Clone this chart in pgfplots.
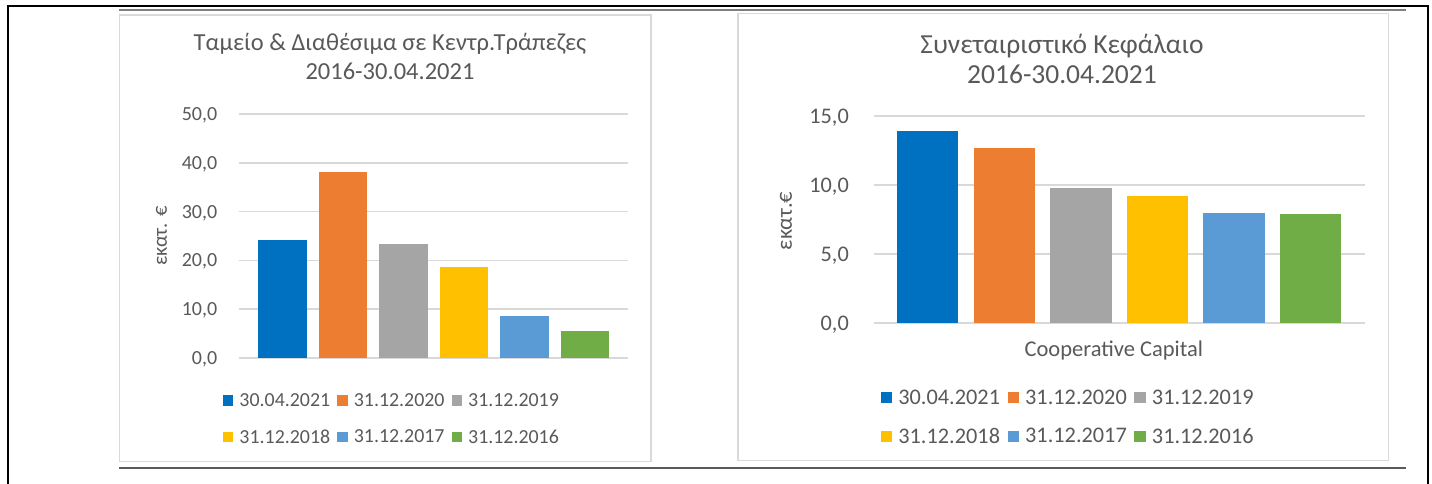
\documentclass[border=0pt]{standalone}
\usepackage{fontspec}
\setmainfont{Carlito}
\usepackage{pgfplots}
\pgfplotsset{compat=1.18}

\definecolor{cBlue}{HTML}{0070C0}
\definecolor{cOrange}{HTML}{ED7D31}
\definecolor{cGray}{HTML}{A5A5A5}
\definecolor{cYellow}{HTML}{FFC000}
\definecolor{cLBlue}{HTML}{5B9BD5}
\definecolor{cGreen}{HTML}{70AD47}
\definecolor{txt}{HTML}{595959}
\definecolor{gridc}{HTML}{D9D9D9}
\definecolor{topgray}{HTML}{7F7F7F}
\definecolor{botgray}{HTML}{5A5A5A}

\pgfplotsset{
  mybars/.style={
    scale only axis,
    xmin=-0.71, xmax=5.71, ymin=0,
    axis line style={draw=none},
    xtick=\empty,
    major tick length=0pt,
    ytick style={draw=none},
    ymajorgrids,
    major grid style={color=gridc, line width=1.5pt},
    /pgf/number format/assume math mode=true,
    /pgf/number format/fixed,
    /pgf/number format/fixed zerofill,
    /pgf/number format/precision=1,
    /pgf/number format/use comma,
    y tick label style={text=txt, inner sep=0pt, text depth=0pt},
    ylabel style={text=txt},
    xlabel style={text=txt},
    legend columns=3,
    legend cell align=left,
  },
  mybar/.style 2 args={ybar, bar width=0.8, bar shift=0pt, draw=none, fill=#1,
    legend image code/.code={\fill[##1] (0pt,-#2) rectangle (2*#2,#2);}},
}

\begin{document}
\begin{tikzpicture}
\useasboundingbox (0pt,0pt) rectangle (1432pt,-483pt);
% outer frames
\draw[line width=2pt, black] (8pt,-490pt) -- (8pt,-6pt) -- (1427.5pt,-6pt) -- (1427.5pt,-490pt);
\draw[line width=2pt, topgray] (119pt,-10pt) -- (1406pt,-10pt);
\draw[line width=2pt, botgray] (119pt,-468pt) -- (1406pt,-468pt);
\draw[line width=1.5pt, gridc] (119.5pt,-15pt) rectangle (651pt,-461.5pt);
\draw[line width=1.5pt, gridc] (738pt,-13.5pt) rectangle (1388.5pt,-460.7pt);

% titles
\node[anchor=base, text=txt, font=\fontsize{24.5pt}{28pt}\selectfont, inner sep=0pt] at (390pt,-50pt) {Ταμείο \& Διαθέσιμα σε Κεντρ.Τράπεζες};
\node[anchor=base, text=txt, font=\fontsize{24.5pt}{28pt}\selectfont, inner sep=0pt] at (390pt,-79.5pt) {2016-30.04.2021};
\node[anchor=base, text=txt, font=\fontsize{27.5pt}{31pt}\selectfont, inner sep=0pt] at (1062pt,-53.3pt) {Συνεταιριστικό Κεφάλαιο};
\node[anchor=base, text=txt, font=\fontsize{27.5pt}{31pt}\selectfont, inner sep=0pt] at (1062pt,-83.3pt) {2016-30.04.2021};

% left chart
\begin{axis}[mybars,
  at={(239.4pt,-358pt)}, anchor=south west,
  width=388.6pt, height=244pt,
  ymax=50, ytick={0,10,20,30,40,50},
  y tick label style={font=\fontsize{20pt}{24pt}\selectfont, xshift=-22pt},
  ylabel={εκατ. €},
  ylabel style={at={(axis description cs:-0.2005,0.5)}, anchor=center, font=\fontsize{20.5pt}{24pt}\selectfont},
  legend style={at={(axis description cs:-0.043,-0.1445)}, anchor=north west,
    draw=none, fill=none, inner sep=0pt, text=txt,
    font=\fontsize{19.9pt}{23pt}\selectfont,
    nodes={inner sep=0pt},
    row sep=21.7pt, column sep=6pt,
    /tikz/every even column/.append style={column sep=7pt}},
]
\addplot[mybar={cBlue}{5.3pt}]   coordinates {(0,24.1)};
\addplot[mybar={cOrange}{5.3pt}] coordinates {(1,38.2)};
\addplot[mybar={cGray}{5.3pt}]   coordinates {(2,23.4)};
\addplot[mybar={cYellow}{5.3pt}] coordinates {(3,18.7)};
\addplot[mybar={cLBlue}{5.3pt}]  coordinates {(4,8.6)};
\addplot[mybar={cGreen}{5.3pt}]  coordinates {(5,5.5)};
\legend{30.04.2021,31.12.2020,31.12.2019,31.12.2018,31.12.2017,31.12.2016}
\end{axis}

% right chart
\begin{axis}[mybars,
  at={(873.5pt,-323pt)}, anchor=south west,
  width=491.5pt, height=207pt,
  ymax=15, ytick={0,5,10,15},
  y tick label style={font=\fontsize{22.3pt}{26pt}\selectfont, xshift=-24.5pt},
  ylabel={εκατ.€},
  ylabel style={at={(axis description cs:-0.178,0.493)}, anchor=center, font=\fontsize{22.5pt}{26pt}\selectfont},
  xlabel={Cooperative Capital},
  xlabel style={at={(axis description cs:0.489,-0.163)}, anchor=base, font=\fontsize{22.5pt}{26pt}\selectfont},
  legend style={at={(axis description cs:0.0146,-0.322)}, anchor=north west,
    draw=none, fill=none, inner sep=0pt, text=txt,
    font=\fontsize{22.3pt}{26pt}\selectfont,
    nodes={inner sep=0pt},
    row sep=22.3pt, column sep=6.3pt,
    /tikz/every even column/.append style={column sep=7.6pt}},
]
\addplot[mybar={cBlue}{5.6pt}]   coordinates {(0,13.9)};
\addplot[mybar={cOrange}{5.6pt}] coordinates {(1,12.7)};
\addplot[mybar={cGray}{5.6pt}]   coordinates {(2,9.8)};
\addplot[mybar={cYellow}{5.6pt}] coordinates {(3,9.2)};
\addplot[mybar={cLBlue}{5.6pt}]  coordinates {(4,8.0)};
\addplot[mybar={cGreen}{5.6pt}]  coordinates {(5,7.9)};
\legend{30.04.2021,31.12.2020,31.12.2019,31.12.2018,31.12.2017,31.12.2016}
\end{axis}
\end{tikzpicture}
\end{document}
